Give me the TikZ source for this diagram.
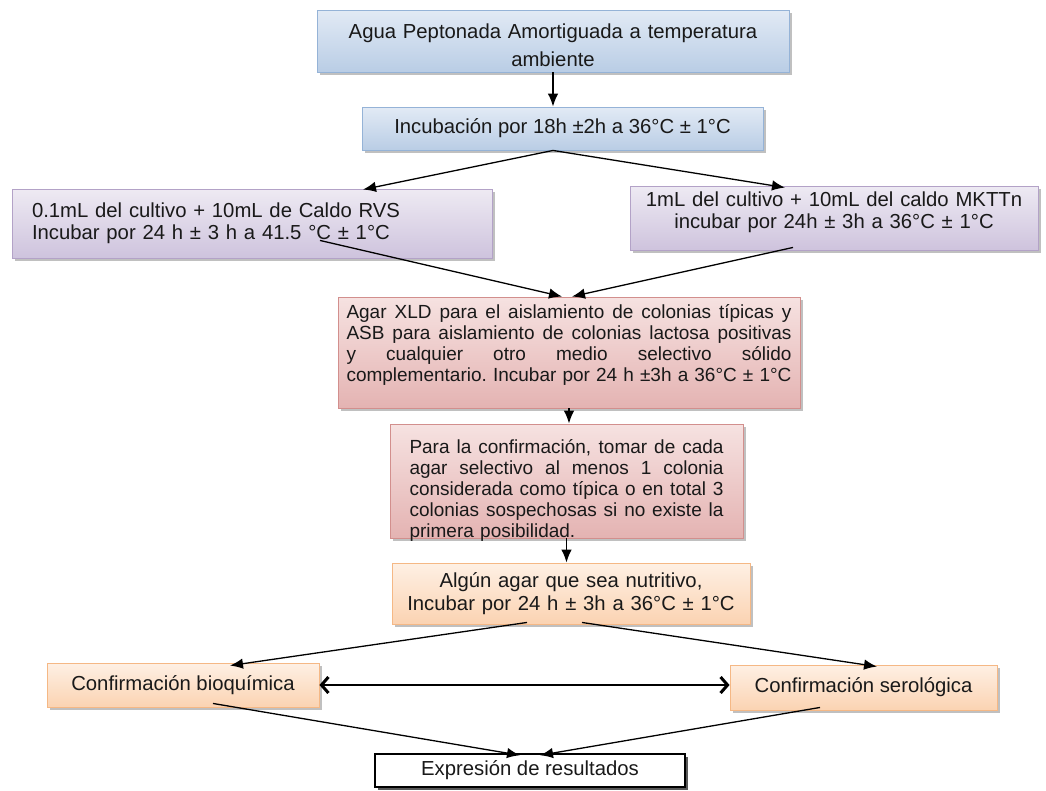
\documentclass[tikz,border=0pt]{standalone}
\usepackage{fontspec}
\setmainfont{Liberation Sans}
\usetikzlibrary{arrows.meta,shadows}

\definecolor{blueTop}{HTML}{E2EAF5}
\definecolor{blueBot}{HTML}{B9CDE5}
\definecolor{blueLine}{HTML}{95B3D7}
\definecolor{lilaTop}{HTML}{EEEAF3}
\definecolor{lilaBot}{HTML}{CEC3DD}
\definecolor{lilaLine}{HTML}{B3A2C7}
\definecolor{rojoTop}{HTML}{F6E2E1}
\definecolor{rojoBot}{HTML}{E4B3B2}
\definecolor{rojoLine}{HTML}{D28F8D}
\definecolor{narTop}{HTML}{FEF0E4}
\definecolor{narBot}{HTML}{FBD3B2}
\definecolor{narLine}{HTML}{F5B885}

% one justified line of given width
\newcommand{\jline}[2]{{\spaceskip=0.25em plus 1fil\xspaceskip=\spaceskip\relax\makebox[#1][s]{#2}}}

\begin{document}
\begin{tikzpicture}[x=1pt, y=-1pt,
    box/.style={draw, rectangle, inner sep=0pt, line width=0.9pt, text=black!90,
      font=\fontsize{20.3}{22}\selectfont,
      drop shadow={shadow xshift=2.5pt, shadow yshift=-3pt, fill=black!45, opacity=0.55}},
    bluebox/.style={box, draw=blueLine, top color=blueTop, bottom color=blueBot},
    lilabox/.style={box, draw=lilaLine, top color=lilaTop, bottom color=lilaBot},
    rojobox/.style={box, draw=rojoLine, top color=rojoTop, bottom color=rojoBot},
    narbox/.style={box, draw=narLine, top color=narTop, bottom color=narBot},
    arr/.style={line width=1.3pt, -{Latex[length=13pt, width=10.5pt]}},
    dblarr/.style={line width=2pt, {Straight Barb[length=7pt, width=16pt, line width=3pt]}-{Straight Barb[length=7pt, width=16pt, line width=3pt]}}
  ]
  \useasboundingbox (0,0) rectangle (1046,790);

  \node[bluebox, minimum width=472pt, minimum height=62pt, text width=452pt, align=center,
    text height=24pt, font=\fontsize{20.3}{28}\selectfont] (agua) at (553,41)
    {Agua Peptonada Amortiguada a temperatura\\ ambiente};
  \node[bluebox, minimum width=401pt, minimum height=43pt] (incub) at (562.5,128.5)
    {Incubación por 18h ±2h a 36°C ± 1°C};

  \node[lilabox, minimum width=480pt, minimum height=69pt, text width=440pt, align=left] (rvs) at (252,223.5)
    {0.1mL del cultivo + 10mL de Caldo RVS\\ Incubar por 24 h ± 3 h a 41.5 °C ± 1°C};
  \node[lilabox, minimum width=408pt, minimum height=64pt, text width=390pt, align=center,
    text depth=38pt] (mkttn) at (834,218)
    {1mL del cultivo + 10mL del caldo MKTTn\\ incubar por 24h ± 3h a 36°C ± 1°C};

  \node[rojobox, minimum width=462pt, minimum height=111pt, text width=445pt, align=left,
    text depth=82pt, font=\fontsize{19}{21}\selectfont] (xld) at (569,352.5)
    {\jline{445pt}{Agar XLD para el aislamiento de colonias típicas y}\\
     \jline{445pt}{ASB para aislamiento de colonias lactosa positivas}\\
     \jline{445pt}{y cualquier otro medio selectivo sólido}\\
     \jline{445pt}{complementario. Incubar por 24 h ±3h a 36°C ± 1°C}};
  \node[rojobox, minimum width=353pt, minimum height=114pt, text width=314pt, align=left,
    text height=25pt, text depth=80pt, font=\fontsize{19}{21}\selectfont] (confirm) at (566.5,481)
    {\jline{314pt}{Para la confirmación, tomar de cada}\\
     \jline{314pt}{agar selectivo al menos 1 colonia}\\
     \jline{314pt}{considerada como típica o en total 3}\\
     \jline{314pt}{colonias sospechosas si no existe la}\\
     primera posibilidad.};

  \node[narbox, minimum width=358pt, minimum height=61pt, text width=340pt, align=center,
    font=\fontsize{20.3}{23}\selectfont] (nutri) at (571,593.5)
    {Algún agar que sea nutritivo,\\ Incubar por 24 h ± 3h a 36°C ± 1°C};
  \node[narbox, minimum width=272pt, minimum height=44pt] (bioq) at (183,685) {Confirmación bioquímica};
  \node[narbox, minimum width=267pt, minimum height=45pt] (serol) at (863.5,687.5) {Confirmación serológica};

  \node[box, draw=black, fill=white, line width=1.5pt, minimum width=310pt, minimum height=33pt,
    drop shadow={shadow xshift=3pt, shadow yshift=-3pt, fill=black!75, opacity=0.8}] (expr) at (530,770.5)
    {Expresión de resultados};

  \path (agua.south) edge[arr] (agua.south |- incub.north);
  \path ([xshift=-9.5pt]incub.south) edge[arr] ([xshift=111pt, yshift=-1pt]rvs.north);
  \path ([xshift=-9.5pt]incub.south) edge[arr] ([xshift=-49pt, yshift=-2pt]mkttn.north);
  \path ([xshift=68pt, yshift=18pt]rvs.south) edge[arr] ([xshift=-7pt]xld.north);
  \path ([xshift=-41pt, yshift=3pt]mkttn.south) edge[arr] ([xshift=3pt]xld.north);
  \path (xld.south) edge[arr] (xld.south |- confirm.north);
  \path (confirm.south) edge[arr] (confirm.south |- nutri.north);
  \path ([xshift=-44pt, yshift=2pt]nutri.south) edge[arr] ([xshift=47pt, yshift=-3pt]bioq.north);
  \path ([xshift=11pt, yshift=2pt]nutri.south) edge[arr] ([xshift=13.5pt, yshift=-2pt]serol.north);
  \path (bioq.east) edge[dblarr] (bioq.east -| serol.west);
  \path ([xshift=30pt, yshift=4pt]bioq.south) edge[arr] ([xshift=-10pt, yshift=-2pt]expr.north);
  \path ([xshift=-43.5pt, yshift=3pt]serol.south) edge[arr] ([xshift=10pt, yshift=-2pt]expr.north);
\end{tikzpicture}
\end{document}
